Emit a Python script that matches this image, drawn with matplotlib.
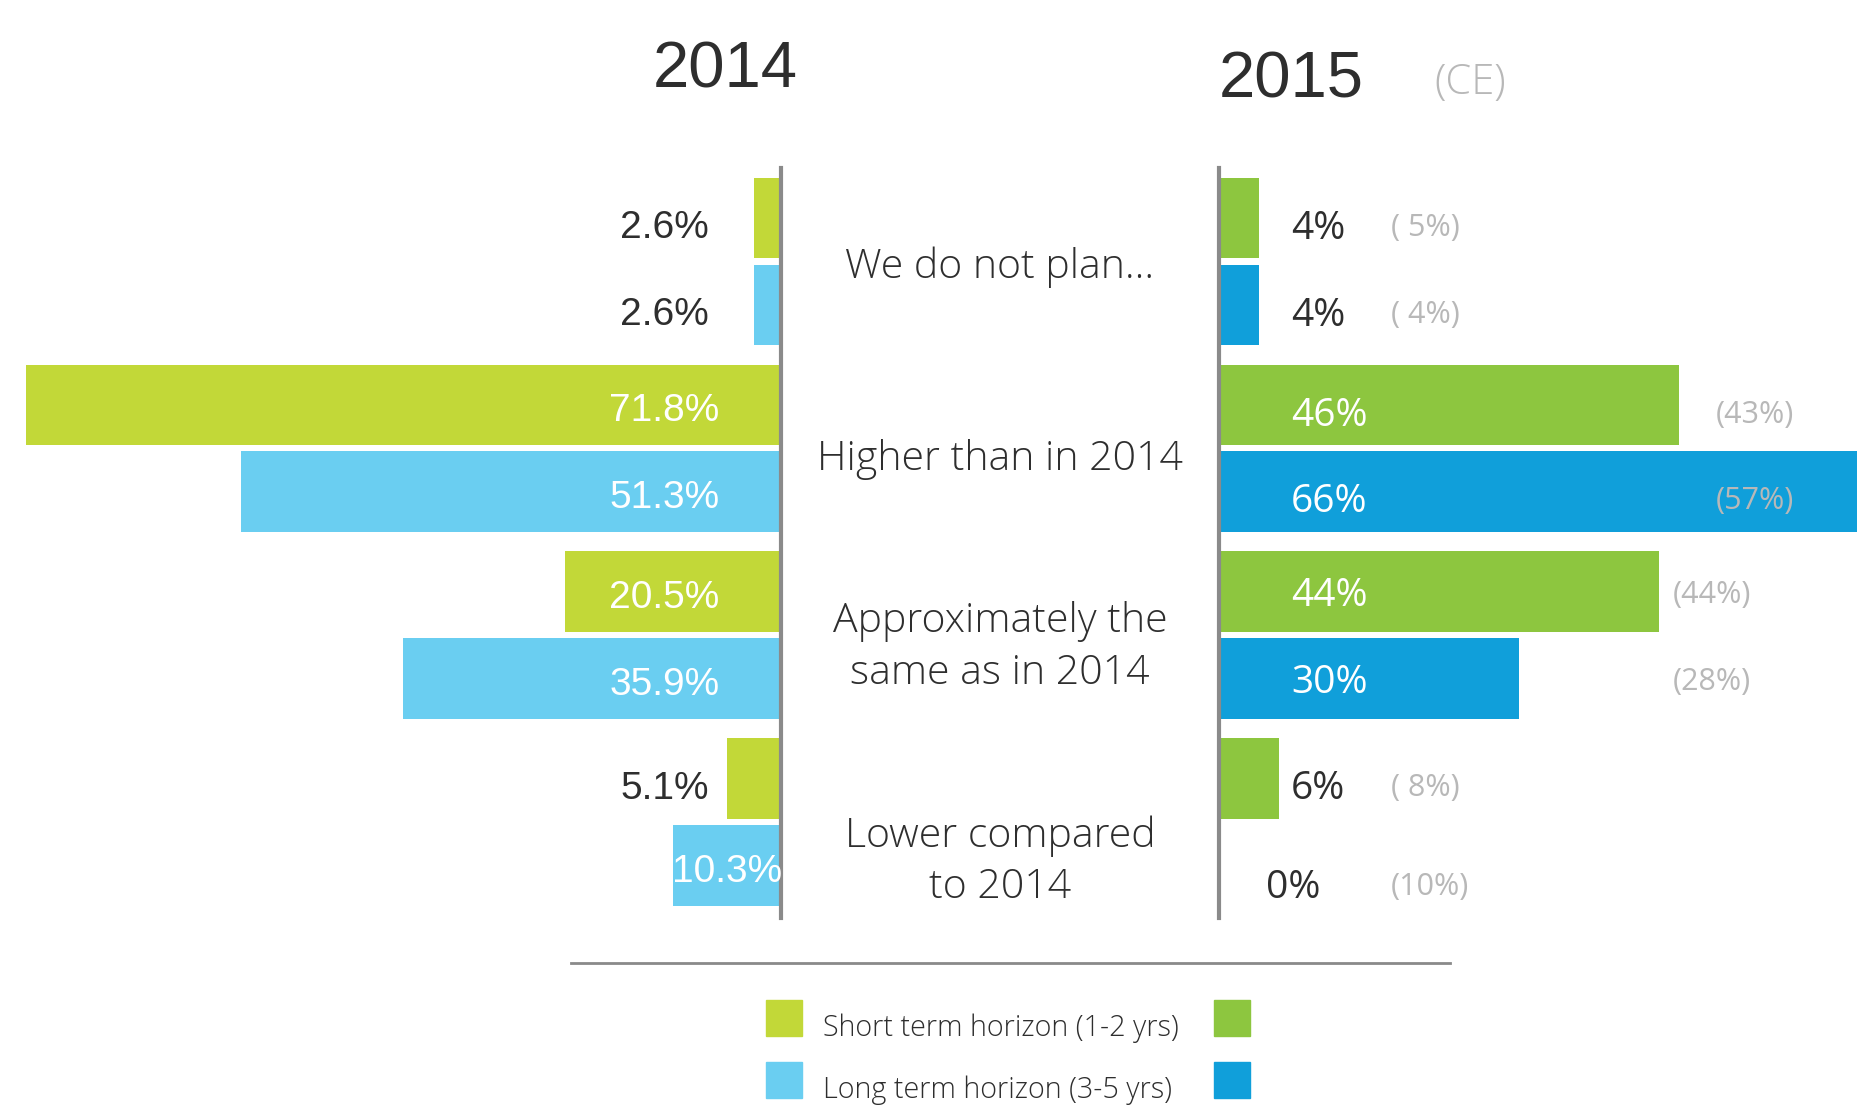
import matplotlib

matplotlib.use("Agg")
import matplotlib.pyplot as plt  # noqa: E402
from matplotlib.patches import Rectangle  # noqa: E402
from matplotlib.lines import Line2D  # noqa: E402

categories = ["We do not plan...", "Higher than in 2014",
              "Approximately the\nsame as in 2014", "Lower compared\nto 2014"]
short_2014 = [2.6, 71.8, 20.5, 5.1]
long_2014 = [2.6, 51.3, 35.9, 10.3]
short_2015 = [4, 46, 44, 6]
long_2015 = [4, 66, 30, 0]
short_ce = [5, 43, 44, 8]
long_ce = [4, 57, 28, 10]
legend_labels = ["Short term horizon (1-2 yrs)", "Long term horizon (3-5 yrs)"]

C14_SHORT = "#c2d838"
C14_LONG = "#6acef1"
C15_SHORT = "#8dc63f"
C15_LONG = "#109fda"
DARK = "#2e2e2e"
GREY = "#b8b8b8"
AXIS = "#8a8a8a"

W, H = 1857, 1112
fig = plt.figure(figsize=(W / 100, H / 100), dpi=100)

# vertical layout shared by all three panels (pixel rows of the reference)
ax_bottom = 1 - 918 / H
ax_height = 750 / H
ylim = (8.05, -0.575)
gstep = 2.15
y_short = [g * gstep for g in range(len(categories))]
y_long = [g * gstep + 1 for g in range(len(categories))]
bh = 0.93

num_font = "Liberation Sans"
txt_font = "Open Sans"

# left panel: 2014
axl = fig.add_axes([0, ax_bottom, 781 / W, ax_height])
axl.barh(y_short, short_2014, height=bh, color=C14_SHORT)
axl.barh(y_long, long_2014, height=bh, color=C14_LONG)
axl.set_xlim(781 / 10.52, 0)
axl.set_ylim(*ylim)
for y, v in list(zip(y_short, short_2014)) + list(zip(y_long, long_2014)):
    if v > 15:
        x, col = 11.1, "white"
    elif v > 9:
        x, col = v / 2, "white"
    else:
        x, col = 11.1, DARK
    dy = 0.07 if v < 9 else 0.02
    axl.text(x, y + dy, f"{v}%", ha="center", va="center_baseline", color=col,
             fontsize=28, family=num_font)

# right panel: 2015 (CE values in grey)
axr = fig.add_axes([1219 / W, ax_bottom, (W - 1219) / W, ax_height])
axr.barh(y_short, short_2015, height=bh, color=C15_SHORT)
axr.barh(y_long, long_2015, height=bh, color=C15_LONG)
axr.set_xlim(0, (W - 1219) / 10.0)
axr.set_ylim(*ylim)
ce_x = [17.2, 49.7, 45.4, 17.2]
for g in range(len(categories)):
    for y, v, ce in ((y_short[g], short_2015[g], short_ce[g]),
                     (y_long[g], long_2015[g], long_ce[g])):
        col = "white" if v > 15 else DARK
        x = 7.2 if v > 0 else 4.7
        dy = 0.2 if v == 0 else (0.0 if g == 2 else 0.07)
        axr.text(x, y + dy, f"{v}%", ha="left", va="center_baseline", color=col,
                 fontsize=28, family=txt_font)
        ce_txt = f"({ce}%)" if ce >= 10 else f"( {ce}%)"
        axr.text(ce_x[g], y + dy, ce_txt, ha="left", va="center_baseline",
                 color=GREY, fontsize=22, family=txt_font)

for ax, side in ((axl, "right"), (axr, "left")):
    for s in ax.spines.values():
        s.set_visible(False)
    ax.spines[side].set_visible(True)
    ax.spines[side].set_color(AXIS)
    ax.spines[side].set_linewidth(3)
    ax.set_xticks([])
    ax.set_yticks([])
    ax.patch.set_alpha(0)

# middle panel: category labels
axm = fig.add_axes([781 / W, ax_bottom, (1219 - 781) / W, ax_height])
axm.set_xlim(0, 1)
axm.set_ylim(*ylim)
axm.axis("off")
label_shift = [0.07, 0.13, 0.14, 0.45]
for g, cat in enumerate(categories):
    axm.text(0.5, y_short[g] + 0.5 + label_shift[g], cat, ha="center",
             va="center", color=DARK, fontsize=29.5, family=txt_font,
             fontweight="light", linespacing=1.33)

# titles
fig.text(725 / W, 1 - 88 / H, "2014", ha="center", va="baseline",
         fontsize=47, color=DARK, family=num_font)
fig.text(1291 / W, 1 - 98 / H, "2015", ha="center", va="baseline",
         fontsize=47, color=DARK, family=num_font)
fig.text(1470 / W, 1 - 94 / H, "(CE)", ha="center", va="baseline",
         fontsize=30, color=GREY, family=txt_font, fontweight="light")

# separator and legend
fig.add_artist(Line2D([571 / W, 1450 / W], [1 - 963 / H, 1 - 963 / H],
                      color=AXIS, lw=2))
rows = [1018, 1080]
for r, lab, c14, c15 in zip(rows, legend_labels, [C14_SHORT, C14_LONG],
                            [C15_SHORT, C15_LONG]):
    for x0, c in ((766, c14), (1214, c15)):
        fig.add_artist(Rectangle((x0 / W, 1 - (r + 18) / H), 36 / W, 36 / H,
                                 transform=fig.transFigure, color=c))
    fig.text(823 / W, 1 - (r + 10) / H, lab, ha="left", va="center",
             fontsize=20.7, color=DARK, family=txt_font, fontweight="light")

fig.savefig("out.png", dpi=100)
